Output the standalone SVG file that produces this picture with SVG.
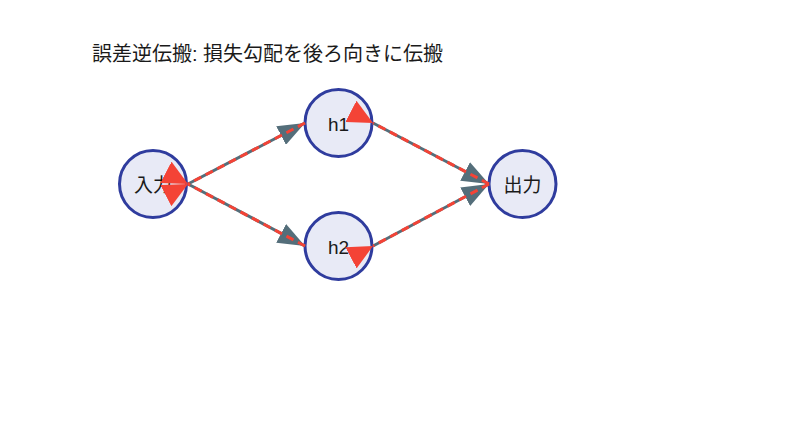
<svg xmlns="http://www.w3.org/2000/svg" width="800" height="431" viewBox="0 0 800 431">
<style>
.node circle{fill:#e8eaf6;stroke:#2f3c9e;stroke-width:3}
.node text{font-family:"Liberation Sans","Noto Sans CJK JP",sans-serif;font-size:19px;fill:#1a1a1a;text-anchor:middle;dominant-baseline:central}
.title{font-family:"Liberation Sans","Noto Sans CJK JP",sans-serif;font-size:20px;fill:#1a1a1a}
.fwd{fill:none;stroke:#546e7a;stroke-width:3;marker-end:url(#ga)}
.bwd{fill:none;stroke:#f44336;stroke-width:3;stroke-dasharray:8 5;marker-end:url(#ra)}
</style>
<defs>
<marker id="ga" markerUnits="userSpaceOnUse" markerWidth="27" markerHeight="21" refX="27" refY="10.5" orient="auto" viewBox="0 0 27 21">
<path d="M0,0 L27,10.5 L0,21 z" fill="#546e7a"/>
</marker>
<marker id="ra" markerUnits="userSpaceOnUse" markerWidth="25" markerHeight="24" refX="0" refY="12" orient="auto" viewBox="0 0 25 24">
<path d="M25,0 L0,12 L25,24 z" fill="#f44336"/>
</marker>
</defs>
<rect width="800" height="431" fill="#ffffff"/>
<text class="title" x="92" y="61">誤差逆伝搬: 損失勾配を後ろ向きに伝搬</text>
<g id="n-in" class="node"><circle cx="153" cy="184" r="33.5"/><text x="153" y="185">入力</text></g>
<g id="n-h1" class="node"><circle cx="338.5" cy="123" r="33.5"/><text x="338.5" y="124">h1</text></g>
<g id="n-h2" class="node"><circle cx="338.5" cy="246" r="33.5"/><text x="338.5" y="247">h2</text></g>
<g id="n-out" class="node"><circle cx="522.5" cy="184" r="33.5"/><text x="522.5" y="185">出力</text></g>
<g id="connectors">
<path class="fwd" d="M188,184 L305,123"/>
<path class="fwd" d="M188,184 L305,246"/>
<path class="fwd" d="M373,123 L489,184"/>
<path class="fwd" d="M373,246 L489,184"/>
<path class="bwd" d="M305,123 L188,184"/>
<path class="bwd" d="M305,246 L188,184"/>
<path class="bwd" d="M489,184 L373,123"/>
<path class="bwd" d="M489,184 L373,246"/>
</g>
</svg>
